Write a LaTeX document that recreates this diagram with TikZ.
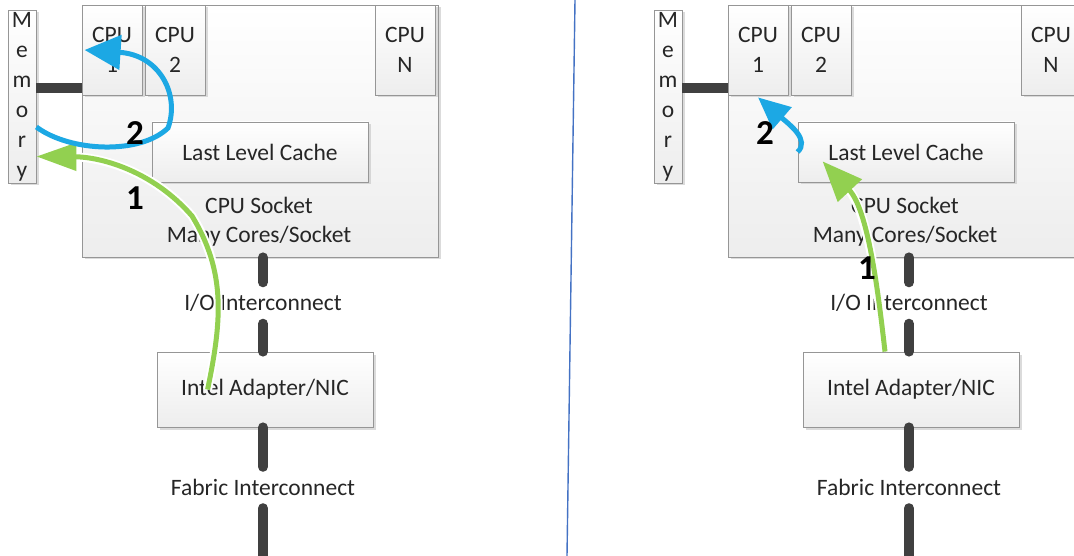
\documentclass[tikz,border=0pt]{standalone}
\usepackage{fontspec}
\setmainfont{Carlito}
\usetikzlibrary{arrows.meta,shadows,calc}

\definecolor{linkblue}{RGB}{28,168,228}
\definecolor{linkgreen}{RGB}{146,208,80}
\definecolor{busgray}{RGB}{64,64,64}
\definecolor{boxedge}{RGB}{150,150,150}
\definecolor{sepblue}{RGB}{68,114,196}
\definecolor{txt}{RGB}{38,38,38}

\tikzset{
  box/.style={draw=boxedge, line width=0.8pt, top color=white, bottom color=gray!14,
    drop shadow={shadow xshift=2.5pt, shadow yshift=-2.5pt, fill=gray!50, opacity=0.55},
    inner sep=0pt, text=txt, align=center, font=\fontsize{23.5}{30}\selectfont},
  cpubox/.style={minimum width=60pt, minimum height=90pt},
  plain/.style={inner sep=0pt, text=txt, align=center, font=\fontsize{23.5}{29}\selectfont},
  gaplabel/.style={plain, minimum height=41pt},
  bus/.style={draw=busgray, line width=10pt, line cap=round},
  flow/.style={line width=5pt},
  halo/.style={preaction={draw=white, line width=9pt, arrows=-, shorten >=#1}},
  num/.style={inner sep=0pt, font=\fontsize{35}{38}\selectfont\bfseries, text=black},
}

% One socket panel: memory, socket with cores and cache, NIC and the two interconnects
\newcommand\socketpanel[1]{%
  \node[box, minimum width=356pt, minimum height=252pt] (#1sock) at (260,131) {};
  \node[plain] (#1socktxt) at (259,222) {CPU Socket\\Many Cores/Socket};
  \node[box, cpubox] (#1cpu1) at (112,50) {CPU\\1};
  \node[box, cpubox] (#1cpu2) at (175,50) {CPU\\2};
  \node[box, cpubox] (#1cpuN) at (405,50) {CPU\\N};
  \node[box, minimum width=216pt, minimum height=60pt] (#1llc) at (260,152) {Last Level Cache};
  \node[box, minimum width=28pt, minimum height=173pt] (#1mem) at (22,96.5) {M\\e\\m\\o\\r\\y};
  \node[box, minimum width=216pt, minimum height=75pt] (#1nic) at (265,389.5) {Intel Adapter/NIC};
  \node[gaplabel] (#1io) at (263,303) {I/O Interconnect};
  \node[gaplabel] (#1fab) at (263,487.5) {Fabric Interconnect};
  \coordinate (#1tap) at ([yshift=8pt]#1mem.east);
  \coordinate (#1floor) at (263,620);
  \draw[bus, line cap=butt] (#1tap) -- (#1tap -| #1cpu1.west);
  \draw[bus] (#1io.north |- #1sock.south) -- (#1io.north);
  \draw[bus] (#1io.south) -- (#1io.south |- #1nic.north);
  \draw[bus] (#1io.south |- #1nic.south) -- (#1fab.north);
  \draw[bus] (#1fab.south) -- (#1floor);
}

\begin{document}
\begin{tikzpicture}[x=1pt, y=-1pt]
  \path[use as bounding box, clip] (0,0) rectangle (1074,556);
  \fill[white] (0,0) rectangle (1074,556);

  % left: data travels through memory
  \socketpanel{L}
  % right: data lands directly in the last level cache
  \begin{scope}[xshift=646pt]
    \socketpanel{R}
  \end{scope}

  % separator between the two cases
  \coordinate (sepTop) at (575,0);
  \coordinate (sepBot) at (567,556);
  \draw[sepblue, line width=1.4pt] (sepTop) -- (sepBot);

  % left flows
  \draw[flow, linkgreen, halo=36pt, -{Triangle[length=40pt,width=27pt]}]
    ([xshift=51pt]Lnic.west) .. controls (222,320) and (226,272) .. (192,216)
    .. controls (152,170) and (100,157) .. ([yshift=-60pt]Lmem.east);
  \draw[flow, linkblue, -{Triangle[length=36pt,width=34pt]}]
    ([yshift=-30.5pt]Lmem.east) .. controls (70,152) and (140,155) .. (168,128)
    .. controls (180,95) and (160,55) .. ([xshift=3pt]Lcpu1.west);
  \node[num] (Ltwo) at (135,133) {2};
  \node[num] (Lone) at (135,198) {1};

  % right flows
  \draw[flow, linkgreen, halo=36pt, -{Triangle[length=40pt,width=32pt]}]
    ([xshift=-26pt]Rnic.north) .. controls (878,290) and (868,210)
    .. ([xshift=25pt,yshift=21pt]Rllc.south west);
  \draw[flow, linkblue, -{Triangle[length=32pt,width=28pt]}]
    (Rllc.west) .. controls (810,140) and (790,125) .. ([yshift=-2pt]Rcpu1.south);
  \node[num] (Rtwo) at (765,133) {2};
  \node[num] (Rone) at (867,268) {1};
\end{tikzpicture}
\end{document}
